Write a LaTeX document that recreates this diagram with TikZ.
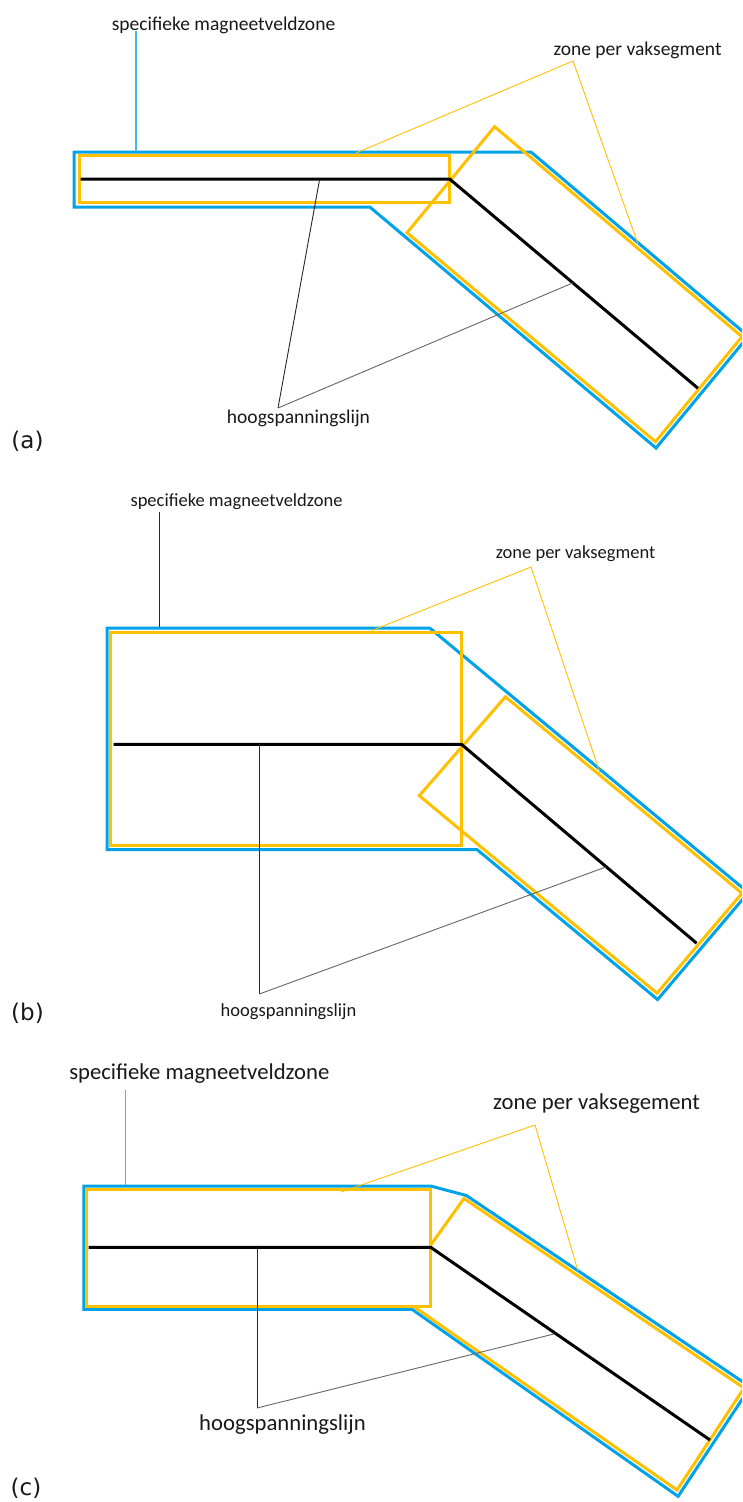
\documentclass[tikz,border=0pt]{standalone}
\usepackage{fontspec}
\setmainfont{Carlito}
\newfontfamily\panelfont{DejaVu Sans}
\definecolor{zoneblue}{RGB}{0,162,232}
\definecolor{zoneyellow}{RGB}{255,192,0}
\definecolor{labelgray}{RGB}{25,25,25}
\tikzset{
  bluezone/.style={draw=zoneblue, line width=3pt},
  yellowzone/.style={draw=zoneyellow, line width=3pt},
  hvline/.style={draw=black, line width=3pt},
  leaderblue/.style={draw=zoneblue!75, line width=1.2pt},
  leaderyellow/.style={draw=zoneyellow, line width=0.9pt},
  leaderblack/.style={draw=black!85, line width=0.9pt},
  leadergray/.style={draw=black!60, line width=0.9pt},
  lblA/.style={inner sep=0pt, text=labelgray, font={\fontsize{19.5}{22}\selectfont}},
  lblB/.style={inner sep=0pt, text=labelgray, font={\fontsize{18.5}{21}\selectfont}},
  lblC/.style={inner sep=0pt, text=labelgray, font={\fontsize{22.7}{25}\selectfont}},
  paneltag/.style={inner sep=0pt, text=labelgray, font={\panelfont\fontsize{23}{26}\selectfont}}
}
\begin{document}
\begin{tikzpicture}[x=1pt, y=-1pt]
\useasboundingbox (0,0) rectangle (742,1502);
\fill[white] (0,0) rectangle (742,1502);
\clip (0,0) rectangle (742,1502);

% ---------- (a) narrow zones ----------
\draw[bluezone] (74,152) -- (531,152) -- (748.3,336.2) -- (656,448)
  -- (369.8,207) -- (74,207) -- cycle;
\draw[yellowzone] (79,155.7) rectangle (449.6,202.3);
\draw[yellowzone] (494.6,126.7) -- (742,336.7) -- (655.5,441.7) -- (407,232.7) -- cycle;
\draw[hvline] (80.5,179) -- (449.6,179) -- (698,388.3);

\node[lblA] (sa) at (223.5,25) {specifieke magneetveldzone};
\node[lblA] (za) at (637.5,50) {zone per vaksegment};
\node[lblA] (ha) at (298.5,418) {hoogspanningslijn};
\node[paneltag] (la) at (27.5,441) {(a)};

\coordinate (sa-foot) at (136,31);
\coordinate (sa-end) at (136,151);
\coordinate (za-apex) at (573,61);
\coordinate (za-end1) at (356,153);
\coordinate (za-end2) at (638,244);
\coordinate (ha-apex) at (278,408);
\coordinate (ha-end1) at (319.5,180);
\coordinate (ha-end2) at (572.6,283);

\draw[leaderblue] (sa-foot) -- (sa-end);
\draw[leaderyellow] (za-end1) -- (za-apex) -- (za-end2);
\draw[leaderblack] (ha-apex) -- (ha-end1);
\draw[leadergray] (ha-apex) -- (ha-end2);

% ---------- (b) wide zone ----------
\draw[bluezone] (107,628) -- (429.7,628) -- (748.3,892.6) -- (657.6,999.5)
  -- (477.1,849.6) -- (107,849.6) -- cycle;
\draw[yellowzone] (110.7,632.5) rectangle (461.4,845);
\draw[yellowzone] (505.4,696.8) -- (742,893.2) -- (657,993.2) -- (419.3,795.7) -- cycle;
\draw[hvline] (113.6,744.3) -- (461.4,744.3) -- (696.6,943.2);

\node[lblB] (sb) at (236.5,502) {specifieke magneetveldzone};
\node[lblB] (zb) at (575.5,554) {zone per vaksegment};
\node[lblB] (hb) at (288.5,1012) {hoogspanningslijn};
\node[paneltag] (lb) at (27.5,1013) {(b)};

\coordinate (sb-foot) at (159.5,512);
\coordinate (sb-end) at (159.5,627);
\coordinate (zb-apex) at (531,567);
\coordinate (zb-end1) at (372,630.5);
\coordinate (zb-end2) at (600,773);
\coordinate (hb-apex) at (259.3,994);
\coordinate (hb-end1) at (259.3,744.3);
\coordinate (hb-end2) at (605.8,867);

\draw[leaderblack] (sb-foot) -- (sb-end);
\draw[leaderyellow] (zb-end1) -- (zb-apex) -- (zb-end2);
\draw[leaderblack] (hb-apex) -- (hb-end1);
\draw[leadergray] (hb-apex) -- (hb-end2);

% ---------- (c) joined zones ----------
\draw[bluezone] (83.8,1186) -- (430.7,1186) -- (466.4,1195.5) -- (750.3,1386.9)
  -- (678.1,1496.3) -- (412,1309.3) -- (83.8,1309.3) -- cycle;
\draw[yellowzone] (86.6,1189) rectangle (430.7,1306.7);
\draw[yellowzone] (430.7,1245) -- (464,1198.5) -- (744,1388) -- (677,1490) -- (414,1306.7);
\draw[hvline] (88.5,1247.3) -- (430.7,1247.3) -- (710,1440);

\node[lblC] (sc) at (199.3,1074) {specifieke magneetveldzone};
\node[lblC] (zc) at (596.5,1104) {zone per vaksegement};
\node[lblC] (hc) at (282.5,1425) {hoogspanningslijn};
\node[paneltag] (lc) at (26,1488) {(c)};

\coordinate (sc-foot) at (125.4,1090);
\coordinate (sc-end) at (125.4,1185);
\coordinate (zc-apex) at (535,1125);
\coordinate (zc-end1) at (341,1192);
\coordinate (zc-end2) at (578,1271);
\coordinate (hc-apex) at (257,1408);
\coordinate (hc-end1) at (257,1247.3);
\coordinate (hc-end2) at (553.7,1334);

\draw[leaderblue] (sc-foot) -- (sc-end);
\draw[leaderyellow] (zc-end1) -- (zc-apex) -- (zc-end2);
\draw[leaderblack] (hc-apex) -- (hc-end1);
\draw[leadergray] (hc-apex) -- (hc-end2);
\end{tikzpicture}
\end{document}
